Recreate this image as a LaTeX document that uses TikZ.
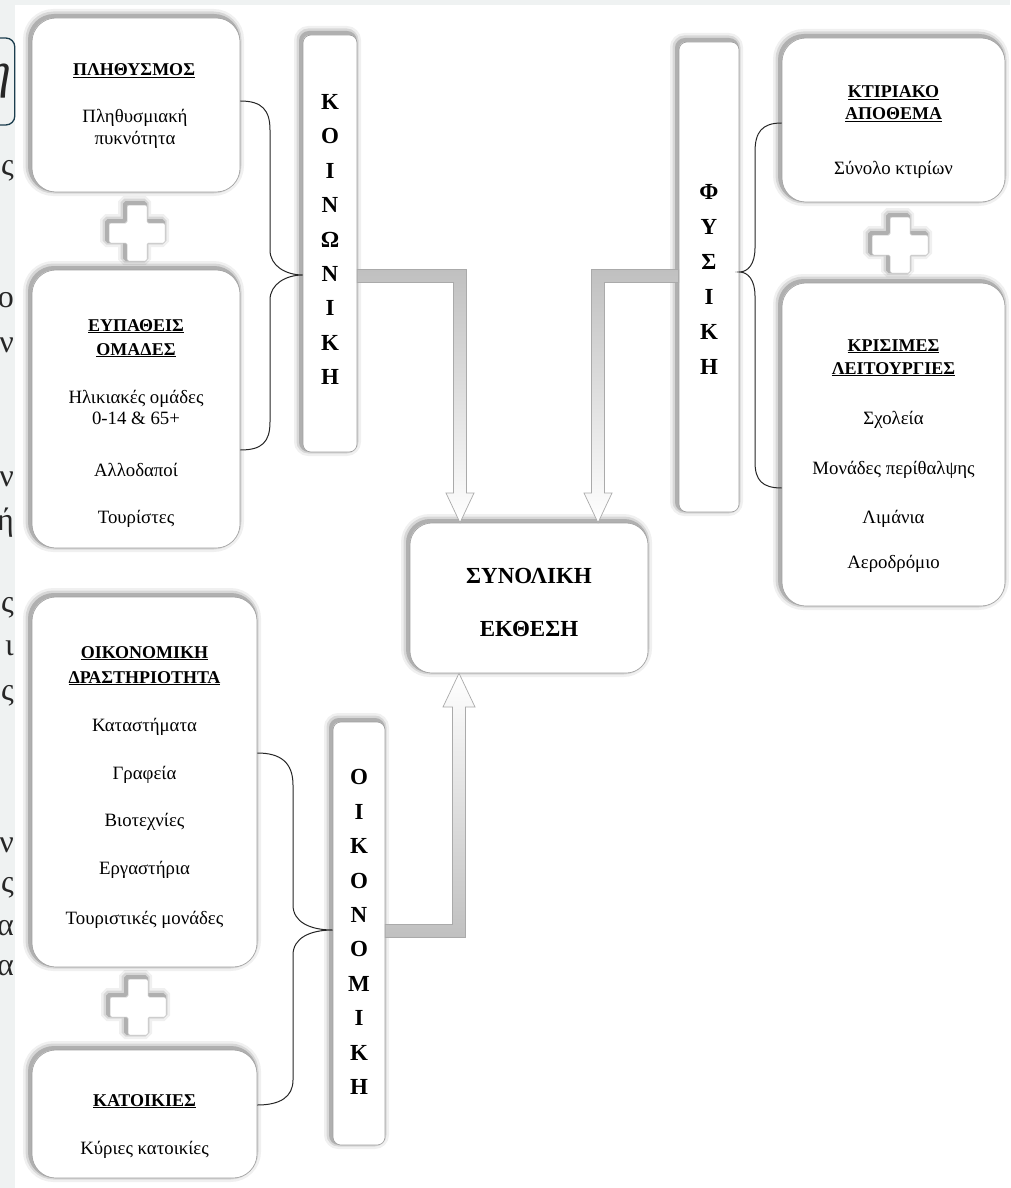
\documentclass[tikz,border=0pt]{standalone}
\usepackage{fontspec}
\setmainfont{Liberation Serif}
\usetikzlibrary{calc}
\definecolor{pagegray}{RGB}{239,242,242}
\definecolor{boxline}{RGB}{160,160,160}
\definecolor{fragblue}{RGB}{28,62,78}
\definecolor{arrowline}{RGB}{170,170,170}
\definecolor{arrowfill}{RGB}{192,192,192}
\tikzset{
  softshadow/.style={
    preaction={draw=black, draw opacity=0.06, line width=13pt, transform canvas={shift={(-2.5pt,2.5pt)}}},
    preaction={draw=black, draw opacity=0.10, line width=8pt, transform canvas={shift={(-2.5pt,2.5pt)}}},
    preaction={draw=black, draw opacity=0.18, line width=4pt, transform canvas={shift={(-2pt,2pt)}}}},
  bigbox/.style={softshadow, draw=boxline, line width=0.6pt, fill=white, rounded corners=24pt, inner sep=0pt},
  vbox/.style={softshadow, draw=boxline, line width=0.6pt, fill=white, rounded corners=8pt, inner sep=0pt},
  hd/.style={font=\fontsize{18}{24}\selectfont\bfseries, anchor=base, inner sep=0pt},
  tx/.style={font=\fontsize{18.8}{22}\selectfont, anchor=base, inner sep=0pt},
  vt/.style={font=\fontsize{23}{34.4}\selectfont\bfseries, align=center, inner sep=0pt},
  st/.style={font=\fontsize{23}{30}\selectfont\bfseries, anchor=base, inner sep=0pt},
  brace/.style={draw=black!85, line width=1pt},
  garrow/.style={draw=arrowline, line width=0.7pt, line join=miter},
  plusst/.style={softshadow, fill=white, draw=black!25, line width=0.5pt, rounded corners=1.5pt},
  frag/.style={font=\fontsize{32}{36}\selectfont, anchor=base east, inner sep=0pt, text=black!85}
}
\begin{document}
\begin{tikzpicture}[x=1pt,y=-1pt]
\useasboundingbox (0,0) rectangle (1010,1188);
\fill[white] (0,0) rectangle (1010,1188);
\fill[pagegray] (0,0) rectangle (1010,5);
\fill[pagegray] (0,0) rectangle (15,1188);

% fragments of the surrounding page
\begin{scope}
\clip (0,0) rectangle (15.5,1188);
\draw[fragblue, line width=1.3pt, rounded corners=9pt] (-40,38) rectangle (14.8,125);
\node[frag, font=\fontsize{50}{55}\selectfont\itshape] (fa) at (12,88) {η};
\node[frag] (fb) at (14,175) {ς};
\node[frag] (fc) at (14,307) {ο};
\node[frag] (fd) at (14,352) {ν};
\node[frag] (fe) at (14,486) {ν};
\node[frag] (ff) at (14,530) {ή};
\node[frag] (fg) at (14,612) {ς};
\node[frag] (fh) at (14,655) {ι};
\node[frag] (fi) at (14,700) {ς};
\node[frag] (fj) at (14,852) {ν};
\node[frag] (fk) at (14,892) {ς};
\node[frag] (fl) at (14,935) {α};
\node[frag] (fm) at (14,975) {α};
\end{scope}

% boxes
\node[bigbox, minimum width=208pt, minimum height=174pt] (pop) at (136,105) {};
\node[bigbox, minimum width=208pt, minimum height=278pt] (vul) at (136,409) {};
\node[bigbox, minimum width=225pt, minimum height=370pt] (eco) at (144.5,782) {};
\node[bigbox, minimum width=225pt, minimum height=128pt] (hou) at (144.5,1114) {};
\node[bigbox, rounded corners=22pt, minimum width=238pt, minimum height=150pt] (syn) at (529,598) {};
\node[bigbox, minimum width=223pt, minimum height=164pt] (bld) at (893.5,120) {};
\node[bigbox, minimum width=223pt, minimum height=323pt] (crit) at (893.5,444.5) {};
\node[vbox, minimum width=54pt, minimum height=417pt] (soc) at (330,243.5) {};
\node[vbox, minimum width=52pt, minimum height=423pt] (oik) at (359,933.5) {};
\node[vbox, minimum width=60pt, minimum height=470pt] (phy) at (709,277) {};

% plus signs
\draw[plusst, shift={(137,233)}] (-10,-28) -- (10,-28) -- (10,-10) -- (28,-10) -- (28,10) -- (10,10) -- (10,28) -- (-10,28) -- (-10,10) -- (-28,10) -- (-28,-10) -- (-10,-10) -- cycle;
\draw[plusst, shift={(900,245)}] (-10,-28) -- (10,-28) -- (10,-10) -- (28,-10) -- (28,10) -- (10,10) -- (10,28) -- (-10,28) -- (-10,10) -- (-28,10) -- (-28,-10) -- (-10,-10) -- cycle;
\draw[plusst, shift={(138,1007)}] (-10,-28) -- (10,-28) -- (10,-10) -- (28,-10) -- (28,10) -- (10,10) -- (10,28) -- (-10,28) -- (-10,10) -- (-28,10) -- (-28,-10) -- (-10,-10) -- cycle;

% texts
\node[hd] (t1) at (134,76) {\underline{ΠΛΗΘΥΣΜΟΣ}};
\node[tx] (t2) at (135,123) {Πληθυσμιακή};
\node[tx] (t3) at (135,145) {πυκνότητα};

\node[hd] (t4) at (136,331) {\underline{ΕΥΠΑΘΕΙΣ}};
\node[hd] (t5) at (136,355) {\underline{ΟΜΑΔΕΣ}};
\node[tx] (t6) at (136,403) {Ηλικιακές ομάδες};
\node[tx] (t7) at (136,424) {0-14 \& 65+};
\node[tx] (t8) at (136,476) {Αλλοδαποί};
\node[tx] (t9) at (136,523) {Τουρίστες};

\node[hd] (t10) at (144.5,658) {\underline{ΟΙΚΟΝΟΜΙΚΗ}};
\node[hd] (t11) at (144.5,683) {\underline{ΔΡΑΣΤΗΡΙΟΤΗΤΑ}};
\node[tx] (t12) at (144.5,731) {Καταστήματα};
\node[tx] (t13) at (144.5,779) {Γραφεία};
\node[tx] (t14) at (144.5,826) {Βιοτεχνίες};
\node[tx] (t15) at (144.5,874) {Εργαστήρια};
\node[tx] (t16) at (144.5,924) {Τουριστικές μονάδες};

\node[hd] (t17) at (144.5,1106) {\underline{ΚΑΤΟΙΚΙΕΣ}};
\node[tx] (t18) at (144.5,1154) {Κύριες κατοικίες};

\node[hd] (t19) at (893.5,98) {\underline{ΚΤΙΡΙΑΚΟ}};
\node[hd] (t20) at (893.5,120) {\underline{ΑΠΟΘΕΜΑ}};
\node[tx] (t21) at (893.5,174) {Σύνολο κτιρίων};

\node[hd] (t22) at (893.5,351) {\underline{ΚΡΙΣΙΜΕΣ}};
\node[hd] (t23) at (893.5,374) {\underline{ΛΕΙΤΟΥΡΓΙΕΣ}};
\node[tx] (t24) at (893.5,424) {Σχολεία};
\node[tx] (t25) at (893.5,474) {Μονάδες περίθαλψης};
\node[tx] (t26) at (893.5,523) {Λιμάνια};
\node[tx] (t27) at (893.5,568) {Αεροδρόμιο};

\node[st] (t28) at (529,583) {ΣΥΝΟΛΙΚΗ};
\node[st] (t29) at (529,636) {ΕΚΘΕΣΗ};

\node[vt] (v1) at (330,239.5) {Κ\\Ο\\Ι\\Ν\\Ω\\Ν\\Ι\\Κ\\Η};
\node[vt] (v2) at (359,932) {Ο\\Ι\\Κ\\Ο\\Ν\\Ο\\Μ\\Ι\\Κ\\Η};
\node[vt, font=\fontsize{23}{35}\selectfont\bfseries] (v3) at (709,279) {Φ\\Υ\\Σ\\Ι\\Κ\\Η};

% braces
\draw[brace] (pop.east |- 0,101) .. controls (262,101) and (270,110) .. (270,130) -- (270,250)
  .. controls (270,266) and (286,275) .. (soc.west |- 0,275)
  .. controls (286,275) and (270,284) .. (270,300) -- (270,422)
  .. controls (270,442) and (262,450) .. (vul.east |- 0,450);
\draw[brace] (bld.west |- 0,123) .. controls (762,123) and (755,132) .. (755,152) -- (755,248)
  .. controls (755,264) and (748,272) .. (phy.east |- 0,272)
  .. controls (748,272) and (755,280) .. (755,296) -- (755,462)
  .. controls (755,480) and (762,488) .. (crit.west |- 0,488);
\draw[brace] (eco.east |- 0,753) .. controls (280,753) and (293,762) .. (293,785) -- (293,905)
  .. controls (293,922) and (310,930) .. (oik.west |- 0,930)
  .. controls (310,930) and (293,938) .. (293,955) -- (293,1080)
  .. controls (293,1097) and (280,1105) .. (hou.east |- 0,1105);

% hollow gray arrows
\shade[garrow, top color=arrowfill, bottom color=white] (soc.east |- 0,269.5) -- (466.5,269.5) -- (466.5,493) -- (474,493)
  -- (syn.north -| 460,0) -- (446,493) -- (453.5,493) -- (453.5,282.5) -- (soc.east |- 0,282.5) -- cycle;
\shade[garrow, top color=arrowfill, bottom color=white] (phy.west |- 0,269.5) -- (591.5,269.5) -- (591.5,493) -- (584,493)
  -- (syn.north -| 598,0) -- (612,493) -- (604.5,493) -- (604.5,282.5) -- (phy.west |- 0,282.5) -- cycle;
\shade[garrow, top color=white, bottom color=arrowfill] (oik.east |- 0,937.5) -- (465.5,937.5) -- (465.5,707) -- (475,707)
  -- (syn.south -| 459,0) -- (443,707) -- (452.5,707) -- (452.5,924.5) -- (oik.east |- 0,924.5) -- cycle;
\end{tikzpicture}
\end{document}
